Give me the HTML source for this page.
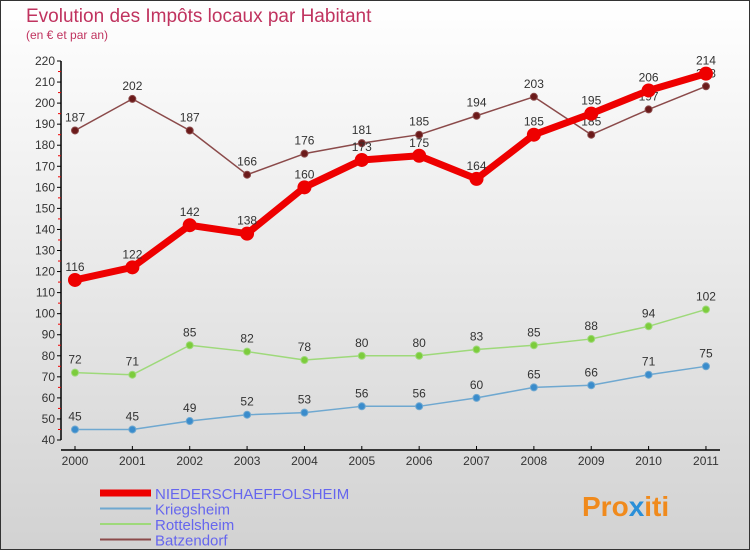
<!DOCTYPE html>
<html><head><meta charset="utf-8"><style>
body{margin:0}
svg{display:block;font-family:"Liberation Sans",sans-serif}
</style></head><body>
<svg width="750" height="550" xmlns="http://www.w3.org/2000/svg">
<defs><linearGradient id="bg" x1="0" y1="0" x2="0" y2="1"><stop offset="0" stop-color="#ffffff"/><stop offset="1" stop-color="#d2d2d2"/></linearGradient></defs>
<rect x="0.5" y="0.5" width="749" height="549" fill="url(#bg)" stroke="#333"/>
<text x="26" y="22" font-size="19" fill="#c0335f">Evolution des Impôts locaux par Habitant</text>
<text x="26" y="39" font-size="12" fill="#c0335f">(en € et par an)</text>
<g id="axes"></g>
<g id="series"></g>
<g id="legend"></g>
<text x="582" y="516" font-size="28" font-weight="bold" fill="#f08a1c">Pro<tspan fill="#2a8fd8">x</tspan>iti</text>
</svg>
<script>
const years=["2000","2001","2002","2003","2004","2005","2006","2007","2008","2009","2010","2011"];
const niederschaeffolsheim=[116,122,142,138,160,173,175,164,185,195,206,214];
const kriegsheim=[45,45,49,52,53,56,56,60,65,66,71,75];
const rottelsheim=[72,71,85,82,78,80,80,83,85,88,94,102];
const batzendorf=[187,202,187,166,176,181,185,194,203,185,197,208];
const yTicks=[40,50,60,70,80,90,100,110,120,130,140,150,160,170,180,190,200,210,220];
const NS="http://www.w3.org/2000/svg";
const xs=i=>75+i*57.36;
const ys=v=>440-(v-40)*(379/180);
function mk(tag,attrs,parent){const e=document.createElementNS(NS,tag);for(const k in attrs)e.setAttribute(k,attrs[k]);parent.appendChild(e);return e;}
const ax=document.getElementById('axes');
let yl=mk('line',{x1:61,y1:ys(220),x2:61,y2:ys(40),stroke:'#000','stroke-width':1.5},ax);


let xl=mk('line',{x1:61,y1:450,x2:720,y2:450,stroke:'#000','stroke-width':1.5},ax);


yTicks.forEach((t,i)=>{
 mk('line',{x1:57,x2:61,y1:ys(t),y2:ys(t),stroke:'#000'},ax);
 if(i<yTicks.length-1)mk('line',{x1:58,x2:61,y1:ys(t+5),y2:ys(t+5),stroke:'#e00'},ax);
 const tx=mk('text',{x:55,y:ys(t)+4,'font-size':12,'text-anchor':'end',fill:'#333'},ax);
 tx.textContent=t;
 
 
});
years.forEach((y,i)=>{
 mk('line',{x1:xs(i),x2:xs(i),y1:446,y2:450,stroke:'#000'},ax);
 const tx=mk('text',{x:xs(i),y:465,'font-size':12,'text-anchor':'middle',fill:'#333'},ax);
 tx.textContent=y;
 
 
});
const sg=document.getElementById('series');
function series(data,color,dot,w,r,name){
 const g=mk('g',{},sg);
 
 
 mk('polyline',{points:data.map((v,i)=>xs(i)+','+ys(v)).join(' '),fill:'none',stroke:color,'stroke-width':w,'stroke-linejoin':'round'},g);
 data.forEach((v,i)=>{
  const c=mk('circle',{cx:xs(i),cy:ys(v),r:r,fill:dot,stroke:color,'stroke-width':1},g);
  
  
  const t=mk('text',{x:xs(i),y:ys(v)-9,'font-size':12,'text-anchor':'middle',fill:'#333'},g);
  t.textContent=v;
  
  
 });
}
series(batzendorf,'#8b4a4a','#6b1a1a',1.5,3.5,'batzendorf');
series(rottelsheim,'#9ed97a','#7ccc3c',1.5,3.5,'rottelsheim');
series(kriegsheim,'#6fa8d0','#3a8ccc',1.5,3.5,'kriegsheim');
series(niederschaeffolsheim,'#ee0000','#ee0000',7,6.5,'niederschaeffolsheim');
const lg=document.getElementById('legend');
const items=[['NIEDERSCHAEFFOLSHEIM','#ee0000',7],['Kriegsheim','#6fa8d0',2],['Rottelsheim','#9ed97a',2],['Batzendorf','#8b4a4a',2]];
items.forEach((it,i)=>{
 const y=493+i*15.5;
 const g=mk('g',{},lg);
 
 
 mk('line',{x1:100,x2:151,y1:y,y2:y,stroke:it[1],'stroke-width':it[2]},g);
 const t=mk('text',{x:155,y:y+6,'font-size':15,fill:'#6666ee'},g);
 t.textContent=it[0];
});
</script>
</body></html>
